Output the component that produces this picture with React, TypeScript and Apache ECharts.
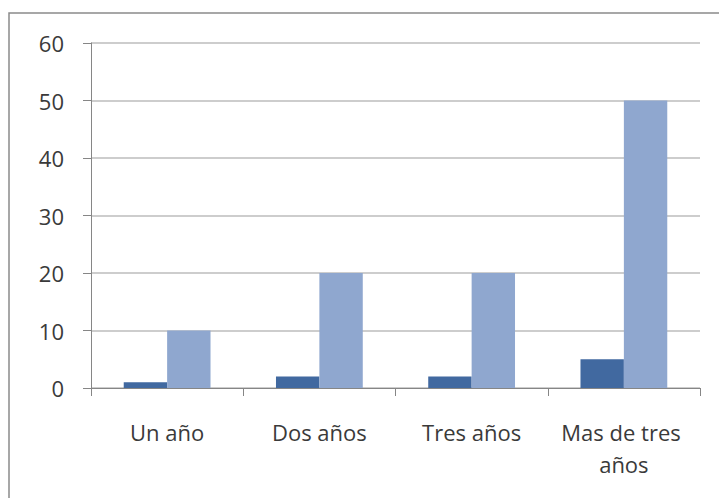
import React, { useEffect, useRef } from "react";
import * as echarts from "echarts";

const categories = ["Un año", "Dos años", "Tres años", "Mas de tres años"];
const seriesDark = [1, 2, 2, 5];
const seriesLight = [10, 20, 20, 50];
const yMin = 0;
const yMax = 60;
const yInterval = 10;

export default function App() {
  const ref = useRef<HTMLDivElement>(null);
  useEffect(() => {
    if (!ref.current) return;
    const chart = echarts.init(ref.current, null, { renderer: "svg" });
    const textStyle = { color: "#3a3a3a", fontFamily: "Open Sans", fontSize: 22 };
    chart.setOption({
      animation: false,
      backgroundColor: "#ffffff",
      graphic: [
        {
          type: "rect",
          shape: { x: 9, y: 13, width: 740, height: 520 },
          style: { fill: "none", stroke: "#8a8a8a", lineWidth: 1.5 },
          silent: true,
        },
      ],
      grid: { left: 91, top: 43, right: 19, bottom: 110, containLabel: false },
      xAxis: {
        type: "category",
        data: categories,
        axisLine: { show: true, lineStyle: { color: "#868686", width: 1 } },
        axisTick: { show: true, length: 8, inside: false, lineStyle: { color: "#868686" } },
        axisLabel: {
          ...textStyle,
          margin: 28,
          lineHeight: 32,
          interval: 0,
          width: 145,
          overflow: "break",
        },
        splitLine: { show: false },
      },
      yAxis: {
        type: "value",
        min: yMin,
        max: yMax,
        interval: yInterval,
        axisLine: { show: true, lineStyle: { color: "#868686", width: 1 } },
        axisTick: { show: true, length: 8, lineStyle: { color: "#868686" } },
        axisLabel: { ...textStyle, margin: 27 },
        splitLine: { show: true, lineStyle: { color: "#bdbdbd", width: 1.5 } },
      },
      series: [
        {
          type: "bar",
          data: seriesDark,
          itemStyle: { color: "#4169a0" },
          barGap: "0%",
          barCategoryGap: "43%",
        },
        {
          type: "bar",
          data: seriesLight,
          itemStyle: { color: "#8fa7cf" },
          barGap: "0%",
          barCategoryGap: "43%",
        },
      ],
    });
    return () => chart.dispose();
  }, []);
  return <div ref={ref} style={{ width: 719, height: 498, position: "absolute", left: 0, top: 0 }} />;
}
